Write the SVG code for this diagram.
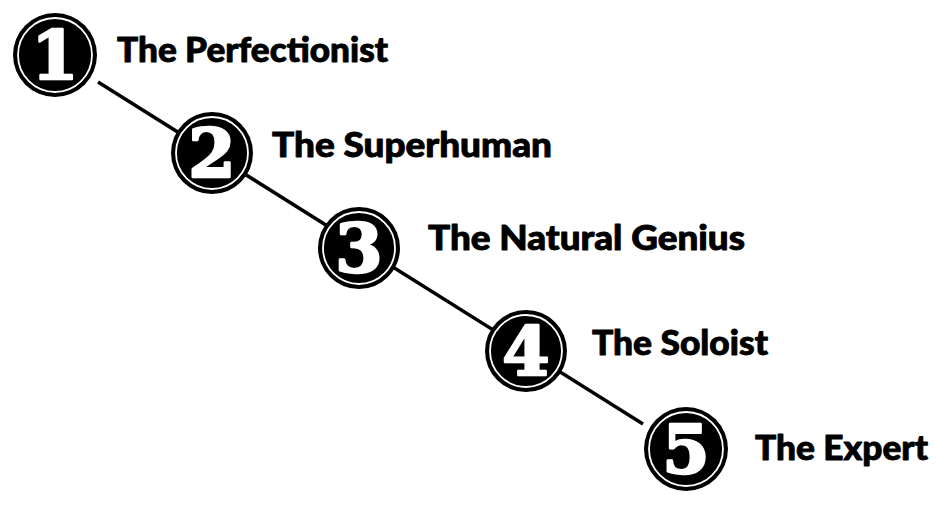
<svg xmlns="http://www.w3.org/2000/svg" width="937" height="507" viewBox="0 0 937 507">
<style>
.bg{fill:#ffffff}
.disc{fill:#000000}
.ring{fill:none;stroke:#ffffff;stroke-width:1.8}
.num{font-family:"DejaVu Serif","Liberation Serif",serif;font-weight:bold;font-size:68px;fill:#ffffff;stroke:#ffffff;stroke-width:2.5;stroke-linejoin:round;text-anchor:middle}
.lbl{font-family:Lato,"Liberation Sans",sans-serif;font-weight:900;font-size:35px;fill:#000000;stroke:#000000;stroke-width:0.9;stroke-linejoin:round}
.conn{stroke:#000000;stroke-width:3.5;fill:none}
</style>
<rect class="bg" x="0" y="0" width="937" height="507"/>
<g id="connectors">
<line class="conn" x1="98" y1="82" x2="643" y2="424"/>
</g>
<g id="node1">
<circle class="disc" cx="55" cy="55" r="42"/>
<circle class="ring" cx="55" cy="55" r="37"/>
<text class="num" x="55" y="79">1</text>
<text class="lbl" x="117" y="62" textLength="271" lengthAdjust="spacingAndGlyphs">The Perfectionist</text>
</g>
<g id="node2">
<circle class="disc" cx="212" cy="153" r="41"/>
<circle class="ring" cx="212" cy="153" r="36"/>
<text class="num" x="212" y="177">2</text>
<text class="lbl" x="272" y="157" textLength="280" lengthAdjust="spacingAndGlyphs">The Superhuman</text>
</g>
<g id="node3">
<circle class="disc" cx="359" cy="248" r="41"/>
<circle class="ring" cx="359" cy="248" r="36"/>
<text class="num" x="359" y="272">3</text>
<text class="lbl" x="428" y="250" textLength="317" lengthAdjust="spacingAndGlyphs">The Natural Genius</text>
</g>
<g id="node4">
<circle class="disc" cx="526" cy="351" r="41"/>
<circle class="ring" cx="526" cy="351" r="36"/>
<text class="num" x="526" y="375">4</text>
<text class="lbl" x="592" y="355" textLength="176" lengthAdjust="spacingAndGlyphs">The Soloist</text>
</g>
<g id="node5">
<circle class="disc" cx="686" cy="449" r="42"/>
<circle class="ring" cx="686" cy="449" r="37"/>
<text class="num" x="686" y="473">5</text>
<text class="lbl" x="755" y="460" textLength="173" lengthAdjust="spacingAndGlyphs">The Expert</text>
</g>
</svg>
